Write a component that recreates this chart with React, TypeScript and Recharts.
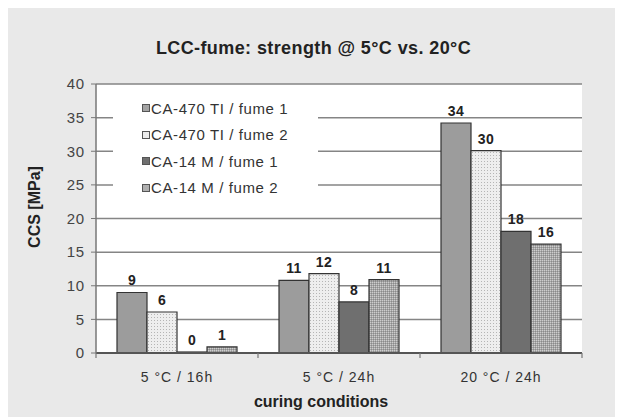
import React from 'react'
import {
  BarChart,
  Bar,
  XAxis,
  YAxis,
  CartesianGrid,
  Legend,
  LabelList,
} from 'recharts'

const categories = ['5 °C / 16h', '5 °C / 24h', '20 °C / 24h']
const ca470Fume1 = [9.0, 10.8, 34.2]
const ca470Fume2 = [6.1, 11.8, 30.1]
const ca14Fume1 = [0, 7.6, 18.1]
const ca14Fume2 = [0.9, 10.9, 16.2]
const yTicks = [0, 5, 10, 15, 20, 25, 30, 35, 40]

const SERIES = [
  { key: 'f1', name: 'CA-470 TI / fume 1', fill: '#9c9c9c', swatch: '#a4a4a4' },
  { key: 'f2', name: 'CA-470 TI / fume 2', fill: 'url(#dotsLight)', swatch: '#ececec' },
  { key: 'f3', name: 'CA-14 M / fume 1', fill: '#6f6f6f', swatch: '#6f6f6f' },
  { key: 'f4', name: 'CA-14 M / fume 2', fill: 'url(#dotsMid)', swatch: '#b0b0b0' },
]

const data = categories.map((c, i) => ({
  cat: c,
  f1: ca470Fume1[i],
  f2: ca470Fume2[i],
  f3: ca14Fume1[i],
  f4: ca14Fume2[i],
}))

const FONT = '"Liberation Sans", Arial, sans-serif'
const X_TICK_SIZE = 6
const X_TICK_MARGIN = 13

function LegendBox() {
  return (
    <div
      style={{
        background: '#fff',
        width: 205,
        padding: '4px 0 10px 0',
        fontFamily: FONT,
        fontSize: 15,
        letterSpacing: 0.6,
        color: '#333',
      }}
    >
      {SERIES.map(s => (
        <div key={s.key} style={{ display: 'flex', alignItems: 'center', height: 26.5, paddingLeft: 29 }}>
          <span
            style={{
              display: 'inline-block',
              width: 6,
              height: 6,
              border: '1px solid #555',
              background: s.swatch,
              marginRight: 1,
            }}
          />
          {s.name}
        </div>
      ))}
    </div>
  )
}

// category label + small tick marks on the band edges
function CategoryTick(props: any) {
  const { x, y, payload, index, visibleTicksCount } = props
  const half = payload?.offset ?? 0
  const axisY = y - X_TICK_SIZE - X_TICK_MARGIN
  const last = index === visibleTicksCount - 1
  return (
    <g>
      <line x1={x - half} x2={x - half} y1={axisY} y2={axisY + 5} stroke="#777" strokeWidth={1.2} />
      {last && <line x1={x + half} x2={x + half} y1={axisY} y2={axisY + 5} stroke="#777" strokeWidth={1.2} />}
      <text
        x={x}
        y={y}
        dy="0.71em"
        textAnchor="middle"
        fill="#333"
        style={{ fontFamily: FONT, fontSize: 14, letterSpacing: 1 }}
      >
        {payload.value}
      </text>
    </g>
  )
}

const roundLabel = (v: unknown) => String(Math.round(Number(v)))

const textBold = { fontFamily: FONT, fontWeight: 'bold' as const, color: '#222' }

export default function App() {
  return (
    <div style={{ marginLeft: -4, width: 619, height: 409, background: '#e9e9e9', position: 'relative' }}>
      <div
        style={{
          ...textBold,
          position: 'absolute',
          top: 30,
          left: 0,
          width: 619,
          textAlign: 'center',
          fontSize: 18,
          letterSpacing: 0.4,
        }}
      >
        LCC-fume: strength @ 5°C vs. 20°C
      </div>
      <BarChart
        width={619}
        height={409}
        data={data}
        margin={{ top: 76, right: 41, left: 0, bottom: 0 }}
        barCategoryGap={21}
        barGap={0}
        style={{ position: 'absolute', top: 0, left: 0 }}
      >
        <defs>
          <pattern id="dotsLight" width="3" height="3" patternUnits="userSpaceOnUse">
            <rect width="3" height="3" fill="#eeeeee" />
            <rect width="1" height="1" fill="#b5b5b5" />
          </pattern>
          <pattern id="dotsMid" width="2" height="2" patternUnits="userSpaceOnUse">
            <rect width="2" height="2" fill="#a6a6a6" />
            <rect width="1" height="1" fill="#cdcdcd" />
            <rect x="1" y="1" width="1" height="1" fill="#8a8a8a" />
          </pattern>
        </defs>
        <CartesianGrid vertical={false} stroke="#858585" strokeWidth={1.5} fill="#fff" />
        <XAxis
          dataKey="cat"
          tickLine={false}
          tickSize={X_TICK_SIZE}
          tickMargin={X_TICK_MARGIN}
          axisLine={{ stroke: '#555', strokeWidth: 2 }}
          tick={<CategoryTick />}
          interval={0}
          height={64}
        />
        <YAxis
          domain={[0, 40]}
          ticks={yTicks}
          width={92}
          tickSize={5}
          tickLine={{ stroke: '#777' }}
          axisLine={{ stroke: '#777', strokeWidth: 1.5 }}
          tick={{ fontFamily: FONT, fontSize: 15, letterSpacing: 0.8, fill: '#444' }}
          tickMargin={6}
        />
        <YAxis
          yAxisId="right"
          orientation="right"
          domain={[0, 40]}
          width={0}
          tick={false}
          tickLine={false}
          axisLine={{ stroke: '#8c8c8c', strokeWidth: 1.5 }}
        />
        <Legend
          layout="vertical"
          verticalAlign="middle"
          align="center"
          content={() => <LegendBox />}
          wrapperStyle={{ position: 'absolute', left: 109, top: 83, width: 205 }}
        />
        {SERIES.map(s => (
          <Bar
            key={s.key}
            dataKey={s.key}
            name={s.name}
            fill={s.fill}
            stroke="#333"
            strokeWidth={1.2}
            barSize={30}
            minPointSize={1}
            isAnimationActive={false}
          >
            <LabelList
              dataKey={s.key}
              position="top"
              offset={7}
              formatter={roundLabel}
              style={{ fontFamily: FONT, fontWeight: 'bold', fontSize: 14, letterSpacing: 0.4, fill: '#222' }}
            />
          </Bar>
        ))}
      </BarChart>
      <div
        style={{
          ...textBold,
          position: 'absolute',
          left: 217,
          top: 385,
          width: 200,
          textAlign: 'center',
          fontSize: 16,
        }}
      >
        curing conditions
      </div>
      <div
        style={{
          ...textBold,
          position: 'absolute',
          left: 31 - 60,
          top: 199 - 10,
          width: 120,
          height: 20,
          lineHeight: '20px',
          textAlign: 'center',
          fontSize: 16,
          transform: 'rotate(-90deg)',
        }}
      >
        CCS [MPa]
      </div>
    </div>
  )
}
